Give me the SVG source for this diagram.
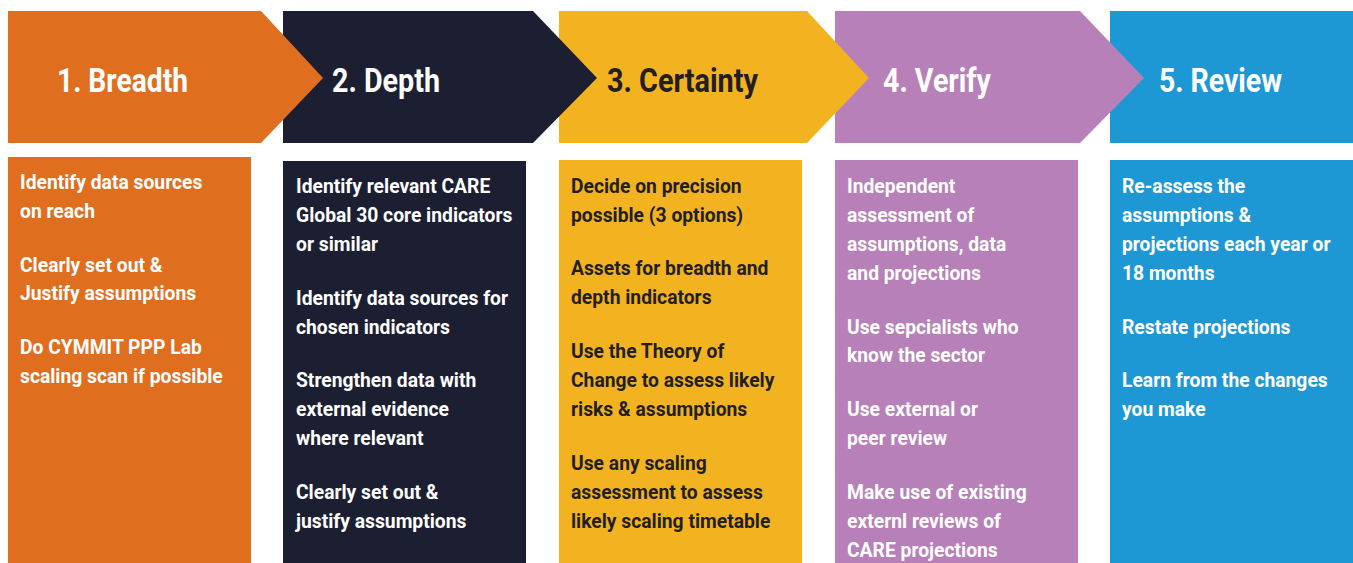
<svg xmlns="http://www.w3.org/2000/svg" width="1353" height="563" viewBox="0 0 1353 563">
  <style>
    .head { font-family: Roboto, "Liberation Sans", sans-serif; font-weight: 700; font-size: 33px; }
    .body { font-family: Roboto, "Liberation Sans", sans-serif; font-weight: 700; font-size: 19.3px; }
    .light { fill: #ffffff; }
    .dark { fill: #231f20; }
    .c1 { fill: #e06e1f; }
    .c2 { fill: #1c1e31; }
    .c3 { fill: #f3b321; }
    .c4 { fill: #b880b8; }
    .c5 { fill: #1e98d5; }
  </style>
  <rect width="1353" height="563" fill="#ffffff"/>

  <!-- step chevrons, drawn right to left so each tip overlaps the next step -->
  <g id="step5">
    <rect class="c5" x="1110" y="11" width="243" height="132"/>
    <text class="head light" x="1159" y="92" textLength="123" lengthAdjust="spacingAndGlyphs">5. Review</text>
    <rect class="c5" x="1110" y="160" width="243" height="403"/>
    <text class="body light">
      <tspan x="1122" y="193">Re-assess the</tspan>
      <tspan x="1122" y="222">assumptions &amp;</tspan>
      <tspan x="1122" y="251">projections each year or</tspan>
      <tspan x="1122" y="280">18 months</tspan>
      <tspan x="1122" y="334">Restate projections</tspan>
      <tspan x="1122" y="387">Learn from the changes</tspan>
      <tspan x="1122" y="416">you make</tspan>
    </text>
  </g>

  <g id="step4">
    <polygon class="c4" points="835,11 1080,11 1144,78 1080,143 835,143"/>
    <text class="head light" x="883" y="92" textLength="108" lengthAdjust="spacingAndGlyphs">4. Verify</text>
    <rect class="c4" x="835" y="160" width="243" height="403"/>
    <text class="body light">
      <tspan x="847" y="193">Independent</tspan>
      <tspan x="847" y="222">assessment of</tspan>
      <tspan x="847" y="251">assumptions, data</tspan>
      <tspan x="847" y="280">and projections</tspan>
      <tspan x="847" y="334">Use sepcialists who</tspan>
      <tspan x="847" y="362">know the sector</tspan>
      <tspan x="847" y="416">Use external or</tspan>
      <tspan x="847" y="445">peer review</tspan>
      <tspan x="847" y="499">Make use of existing</tspan>
      <tspan x="847" y="528">externl reviews of</tspan>
      <tspan x="847" y="557">CARE projections</tspan>
    </text>
  </g>

  <g id="step3">
    <polygon class="c3" points="559,11 807,11 869,78 807,143 559,143"/>
    <text class="head dark" x="607" y="92" textLength="151" lengthAdjust="spacingAndGlyphs">3. Certainty</text>
    <rect class="c3" x="559" y="160" width="243" height="403"/>
    <text class="body dark">
      <tspan x="571" y="193">Decide on precision</tspan>
      <tspan x="571" y="222">possible (3 options)</tspan>
      <tspan x="571" y="275">Assets for breadth and</tspan>
      <tspan x="571" y="304">depth indicators</tspan>
      <tspan x="571" y="358">Use the Theory of</tspan>
      <tspan x="571" y="387">Change to assess likely</tspan>
      <tspan x="571" y="416">risks &amp; assumptions</tspan>
      <tspan x="571" y="470">Use any scaling</tspan>
      <tspan x="571" y="499">assessment to assess</tspan>
      <tspan x="571" y="528">likely scaling timetable</tspan>
    </text>
  </g>

  <g id="step2">
    <polygon class="c2" points="283,11 533,11 597,78 533,143 283,143"/>
    <text class="head light" x="332" y="92" textLength="108" lengthAdjust="spacingAndGlyphs">2. Depth</text>
    <rect class="c2" x="283" y="161" width="243" height="402"/>
    <text class="body light">
      <tspan x="296" y="193">Identify relevant CARE</tspan>
      <tspan x="296" y="222">Global 30 core indicators</tspan>
      <tspan x="296" y="251">or similar</tspan>
      <tspan x="296" y="305">Identify data sources for</tspan>
      <tspan x="296" y="334">chosen indicators</tspan>
      <tspan x="296" y="387">Strengthen data with</tspan>
      <tspan x="296" y="416">external evidence</tspan>
      <tspan x="296" y="445">where relevant</tspan>
      <tspan x="296" y="499">Clearly set out &amp;</tspan>
      <tspan x="296" y="528">justify assumptions</tspan>
    </text>
  </g>

  <g id="step1">
    <polygon class="c1" points="8,11 261,11 323,78 261,143 8,143"/>
    <text class="head light" x="57" y="92" textLength="131" lengthAdjust="spacingAndGlyphs">1. Breadth</text>
    <rect class="c1" x="8" y="157" width="243" height="406"/>
    <text class="body light">
      <tspan x="20" y="189">Identify data sources</tspan>
      <tspan x="20" y="218">on reach</tspan>
      <tspan x="20" y="272">Clearly set out &amp;</tspan>
      <tspan x="20" y="300">Justify assumptions</tspan>
      <tspan x="20" y="354">Do CYMMIT PPP Lab</tspan>
      <tspan x="20" y="383">scaling scan if possible</tspan>
    </text>
  </g>

  <!-- the chevron tips act as the connectors between steps -->
  <g id="connectors"/>
</svg>
